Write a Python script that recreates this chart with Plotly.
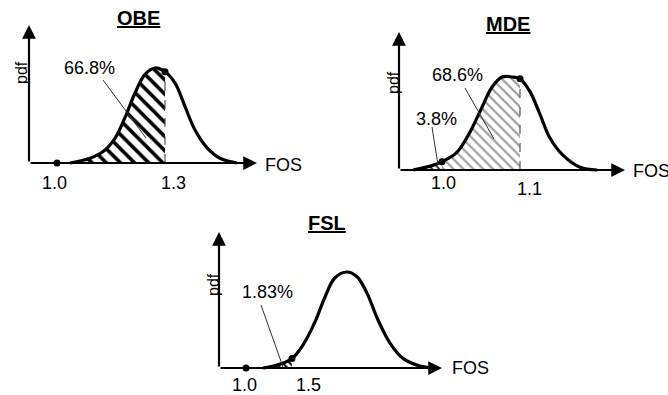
import plotly.graph_objects as go

W, H = 668, 395

# ---------------- data ----------------
panel_titles = ["OBE", "MDE", "FSL"]

obe_fos = [1.036, 1.092, 1.128, 1.161, 1.189, 1.217, 1.244, 1.272, 1.300, 1.328, 1.356, 1.383, 1.417, 1.453, 1.500]
obe_pdf = [0.00, 0.05, 0.12, 0.26, 0.48, 0.74, 0.93, 1.00, 0.96, 0.84, 0.59, 0.35, 0.16, 0.05, 0.00]
obe_marks = [1.0, 1.3]
obe_tick_labels = ["1.0", "1.3"]
obe_pct = "66.8%"

mde_fos = [0.963, 0.988, 1.000, 1.019, 1.036, 1.051, 1.064, 1.077, 1.090, 1.100, 1.113, 1.126, 1.138, 1.155, 1.177, 1.199]
mde_pdf = [0.00, 0.05, 0.09, 0.19, 0.41, 0.67, 0.89, 1.00, 1.00, 0.98, 0.84, 0.59, 0.35, 0.16, 0.03, 0.00]
mde_marks = [1.0, 1.1]
mde_tick_labels = ["1.0", "1.1"]
mde_pcts = ["3.8%", "68.6%"]

fsl_fos = [1.185, 1.337, 1.500, 1.620, 1.750, 1.859, 1.967, 2.098, 2.207, 2.315, 2.435, 2.565, 2.707, 2.891, 3.033]
fsl_pdf = [0.00, 0.03, 0.10, 0.24, 0.48, 0.74, 0.94, 1.00, 0.95, 0.78, 0.50, 0.26, 0.10, 0.02, 0.00]
fsl_marks = [1.0, 1.5]
fsl_tick_labels = ["1.0", "1.5"]
fsl_pct = "1.83%"

# ---------------- layout helpers ----------------
FONT = "Liberation Sans, Arial, sans-serif"

def lin(p, a, b):
    return a[1] + (p - a[0]) * (b[1] - a[1]) / (b[0] - a[0])

# per panel: pixel box, x anchors (px, FOS), y anchors (py, pdf)
panels = [
    dict(box=(0, 334, 0, 200), xa=((57, 1.0), (165, 1.3)), ya=((163, 0.0), (68, 1.0))),
    dict(box=(334, 668, 0, 200), xa=((442, 1.0), (520, 1.1)), ya=((170, 0.0), (77, 1.0))),
    dict(box=(150, 520, 195, 395), xa=((246, 1.0), (292, 1.5)), ya=((368, 0.0), (272, 1.0))),
]

fig = go.Figure()
layout = dict(width=W, height=H, margin=dict(l=0, r=0, t=0, b=0),
              paper_bgcolor="white", plot_bgcolor="white", showlegend=False)

for i, p in enumerate(panels):
    bx0, bx1, by0, by1 = p["box"]
    sfx = "" if i == 0 else str(i + 1)
    layout["xaxis" + sfx] = dict(domain=[bx0 / W, bx1 / W],
                                 range=[lin(bx0, *p["xa"]), lin(bx1, *p["xa"])],
                                 visible=False, anchor="y" + sfx, fixedrange=True)
    layout["yaxis" + sfx] = dict(domain=[1 - by1 / H, 1 - by0 / H],
                                 range=[lin(by1, *p["ya"]), lin(by0, *p["ya"])],
                                 visible=False, anchor="x" + sfx, fixedrange=True)

def ax_ids(i):
    s = "" if i == 0 else str(i + 1)
    return "x" + s, "y" + s

def pdf_at(fos, pdf, v):
    return pdf[fos.index(v)]

def hatch(i, fos, pdf, lo, hi, color, size, solidity):
    xr, yr = ax_ids(i)
    xs = [f for f in fos if lo <= f <= hi]
    ys = [pdf[fos.index(f)] for f in xs]
    fig.add_trace(go.Scatter(x=xs, y=ys, xaxis=xr, yaxis=yr, mode="lines",
                             line=dict(width=0, shape="spline", smoothing=1.0),
                             fill="tozeroy", fillcolor="white",
                             fillpattern=dict(shape="\\", fgcolor=color, bgcolor="white",
                                              fgopacity=1, size=size, solidity=solidity),
                             hoverinfo="skip"))

def curve(i, fos, pdf):
    xr, yr = ax_ids(i)
    fig.add_trace(go.Scatter(x=fos, y=pdf, xaxis=xr, yaxis=yr, mode="lines",
                             line=dict(color="black", width=3.2, shape="spline", smoothing=1.0),
                             hoverinfo="skip"))

def dashed(i, x, ytop):
    xr, yr = ax_ids(i)
    fig.add_trace(go.Scatter(x=[x, x], y=[0, ytop], xaxis=xr, yaxis=yr, mode="lines",
                             line=dict(color="#555", width=1.2, dash="dash"), hoverinfo="skip"))

def dots(i, xs, ys):
    xr, yr = ax_ids(i)
    fig.add_trace(go.Scatter(x=xs, y=ys, xaxis=xr, yaxis=yr, mode="markers",
                             marker=dict(color="black", size=7), hoverinfo="skip"))

# OBE
hatch(0, obe_fos, obe_pdf, obe_fos[0], obe_marks[1], "black", 10, 0.36)
curve(0, obe_fos, obe_pdf)
dashed(0, obe_marks[1], pdf_at(obe_fos, obe_pdf, obe_marks[1]))
dots(0, obe_marks, [0, pdf_at(obe_fos, obe_pdf, obe_marks[1])])

# MDE
hatch(1, mde_fos, mde_pdf, mde_marks[0], mde_marks[1], "#9a9a9a", 7, 0.3)
hatch(1, mde_fos, mde_pdf, mde_fos[0], mde_marks[0], "#334", 5, 0.4)
curve(1, mde_fos, mde_pdf)
dashed(1, mde_marks[1], pdf_at(mde_fos, mde_pdf, mde_marks[1]))
dots(1, mde_marks, [pdf_at(mde_fos, mde_pdf, mde_marks[0]), pdf_at(mde_fos, mde_pdf, mde_marks[1])])

# FSL
hatch(2, fsl_fos, fsl_pdf, fsl_fos[0], fsl_marks[1], "black", 5, 0.4)
curve(2, fsl_fos, fsl_pdf)
dots(2, fsl_marks, [0, pdf_at(fsl_fos, fsl_pdf, fsl_marks[1])])

# ---------------- annotations (pixel placed) ----------------
ann = []
shapes = []

def P(px, py):
    return px / W, 1 - py / H

def text(s, px, py, size=18, bold=False, angle=0, xanchor="center", u=False):
    x, y = P(px, py)
    t = s
    if bold:
        t = "<b>" + t + "</b>"
    if u:
        t = "<u>" + t + "</u>"
    ann.append(dict(text=t, x=x, y=y, xref="paper", yref="paper", showarrow=False,
                    xanchor=xanchor, yanchor="middle", textangle=angle,
                    font=dict(family=FONT, size=size, color="black")))

def arrow(hx, hy, tx, ty):
    x, y = P(hx, hy)
    ann.append(dict(text="", x=x, y=y, xref="paper", yref="paper", showarrow=True,
                    ax=tx - hx, ay=ty - hy, axref="pixel", ayref="pixel",
                    arrowhead=2, arrowsize=1.25, arrowwidth=2.2, arrowcolor="black",
                    standoff=0, startstandoff=0))

def leader(x0, y0, x1, y1):
    a = P(x0, y0); b = P(x1, y1)
    shapes.append(dict(type="line", xref="paper", yref="paper", x0=a[0], y0=a[1], x1=b[0], y1=b[1],
                       line=dict(color="#333", width=1)))

# OBE
arrow(257, 163, 29, 163)
arrow(29, 25, 29, 163)
text(panel_titles[0], 138, 18, size=20, bold=True, u=True)
text("pdf", 21, 73, size=16, angle=-90)
text(obe_pct, 89, 68)
text(obe_tick_labels[0], 54, 183)
text(obe_tick_labels[1], 173, 183)
text("FOS", 263, 165, xanchor="left")
leader(103, 80, 146, 138)

# MDE
arrow(625, 170, 399, 170)
arrow(399, 32, 399, 170)
text(panel_titles[1], 508, 24, size=20, bold=True, u=True)
text("pdf", 393, 82, size=16, angle=-90)
text(mde_pcts[1], 457, 75)
text(mde_pcts[0], 436, 119)
text(mde_tick_labels[0], 443, 183)
text(mde_tick_labels[1], 529, 189)
text("FOS", 631, 171, xanchor="left")
leader(465, 88, 494, 139)
leader(432, 127, 438, 165)

# FSL
arrow(442, 368, 219, 368)
arrow(219, 232, 219, 368)
text(panel_titles[2], 327, 223, size=20, bold=True, u=True)
text("pdf", 213, 285, size=16, angle=-90)
text(fsl_pct, 267, 292)
text(fsl_tick_labels[0], 245, 385)
text(fsl_tick_labels[1], 308, 385)
text("FOS", 450, 368, xanchor="left")
leader(261, 305, 283, 367)

layout["annotations"] = ann
layout["shapes"] = shapes
fig.update_layout(**layout)
fig.write_html("out.html", config={"displayModeBar": False, "staticPlot": True})

# remove the default page margin so the figure sits at the top-left corner
with open("out.html", "r", encoding="utf-8") as f:
    html = f.read()
html = html.replace("<head>", "<head><style>html,body{margin:0;padding:0;overflow:hidden;}</style>", 1)
with open("out.html", "w", encoding="utf-8") as f:
    f.write(html)
